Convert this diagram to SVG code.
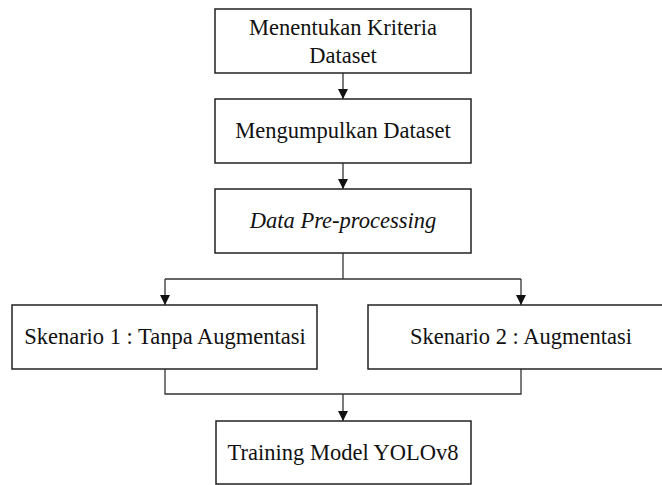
<svg xmlns="http://www.w3.org/2000/svg" width="662" height="485" viewBox="0 0 662 485">
<style>
.box{fill:#fff;stroke:#222;stroke-width:1.5}
.t{font-family:"Liberation Serif","Times New Roman",serif;font-size:22.5px;fill:#111;text-anchor:middle}
.it{font-style:italic}
.c{fill:none;stroke:#333;stroke-width:1.3}
</style>
<defs>
<marker id="ah" markerWidth="10" markerHeight="10" refX="10" refY="5" orient="auto" markerUnits="userSpaceOnUse">
<path d="M0,0 L10,5 L0,10 Z" fill="#111"/>
</marker>
</defs>
<rect width="662" height="485" fill="#fff"/>
<g id="connectors">
<path class="c" d="M343,73 V99" marker-end="url(#ah)"/>
<path class="c" d="M343,163 V189" marker-end="url(#ah)"/>
<path class="c" d="M343,253 V279"/>
<path class="c" d="M165,279 H521"/>
<path class="c" d="M165,279 V305" marker-end="url(#ah)"/>
<path class="c" d="M521,279 V305" marker-end="url(#ah)"/>
<path class="c" d="M165,369 V394 H521 V369"/>
<path class="c" d="M343,394 V421" marker-end="url(#ah)"/>
</g>
<g id="n1">
<rect class="box" x="215" y="9" width="256" height="64"/>
<text class="t" x="343" y="35">Menentukan Kriteria</text>
<text class="t" x="343" y="63">Dataset</text>
</g>
<g id="n2">
<rect class="box" x="215" y="99" width="256" height="64"/>
<text class="t" x="343" y="138">Mengumpulkan Dataset</text>
</g>
<g id="n3">
<rect class="box" x="215" y="189" width="256" height="64"/>
<text class="t it" x="343" y="228">Data Pre-processing</text>
</g>
<g id="n4">
<rect class="box" x="12" y="305" width="305" height="64"/>
<text class="t" x="165" y="344">Skenario 1 : Tanpa Augmentasi</text>
</g>
<g id="n5">
<rect class="box" x="368" y="305" width="305" height="64"/>
<text class="t" x="521" y="344">Skenario 2 : Augmentasi</text>
</g>
<g id="n6">
<rect class="box" x="216" y="421" width="255" height="63"/>
<text class="t" x="343" y="460">Training Model YOLOv8</text>
</g>
</svg>
